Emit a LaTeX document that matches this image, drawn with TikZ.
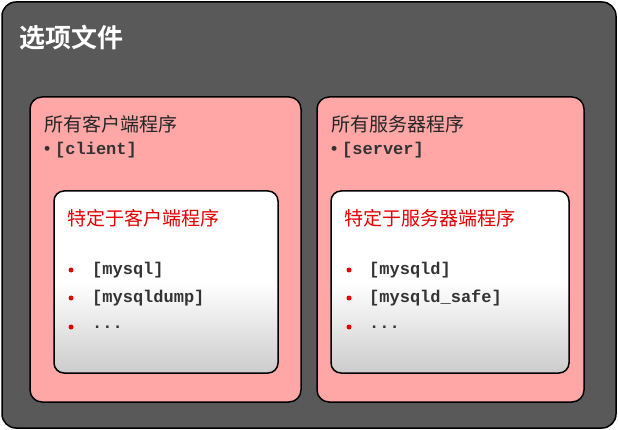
\documentclass[tikz,border=0pt]{standalone}
\usepackage{fontspec}
\newfontfamily\cjk{Noto Sans CJK SC}
\newfontfamily\cjkb{Noto Sans CJK SC Bold}
\setmonofont{Liberation Mono}
\begin{document}
\begin{tikzpicture}[x=1pt,y=-1pt,
  outer/.style={draw=black,line width=1.5pt,fill=black!65,rounded corners=14pt},
  pinkbox/.style={draw=black,line width=1.5pt,fill=red!35!white,rounded corners=12pt},
  inner/.style={draw=black,line width=1.5pt,top color=white,bottom color=black!20,middle color=white,rounded corners=10pt},
  head/.style={anchor=west,font=\cjk\fontsize{19}{22}\selectfont,text=black!85,inner sep=0},
  code/.style={anchor=west,font=\ttfamily\bfseries\fontsize{17}{20}\selectfont,text=black!80,inner sep=0},
  ititle/.style={anchor=west,font=\cjk\fontsize{19}{22}\selectfont,text=red!90!black,inner sep=0},
  dot/.style={circle,fill=red!90!black,inner sep=0,minimum size=5pt}]
\useasboundingbox (0,0) rectangle (618,430);
\draw[outer] (2,2) rectangle (616,428);
\node[anchor=west,font=\cjkb\fontsize{26}{30}\selectfont,text=white,inner sep=0] (title) at (19,38) {选项文件};
\draw[pinkbox] (30,97) rectangle (301,402);
\draw[pinkbox] (317,97) rectangle (584,402);
\node[head] (lh) at (44,124) {所有客户端程序};
\node[code] (lc) at (42,150) {\textbullet\,[client]};
\node[head] (rh) at (331,124) {所有服务器程序};
\node[code] (rc) at (329,150) {\textbullet\,[server]};
\draw[inner] (54,191) rectangle (278,373);
\draw[inner] (331,191) rectangle (569,373);
\node[ititle] (lt) at (67,218) {特定于客户端程序};
\node[ititle] (rt) at (344,218) {特定于服务器端程序};
\foreach \y/\t [count=\i] in {270/{[mysql]},298/{[mysqldump]},327/{...}}{
  \node[dot] (ld\i) at (71,\y) {};
  \node[code] (li\i) at (92,\y) {\t};
}
\foreach \y/\t [count=\i] in {270/{[mysqld]},298/{[mysqld\_safe]},327/{...}}{
  \node[dot] (rd\i) at (349,\y) {};
  \node[code] (ri\i) at (369,\y) {\t};
}
\end{tikzpicture}
\end{document}
